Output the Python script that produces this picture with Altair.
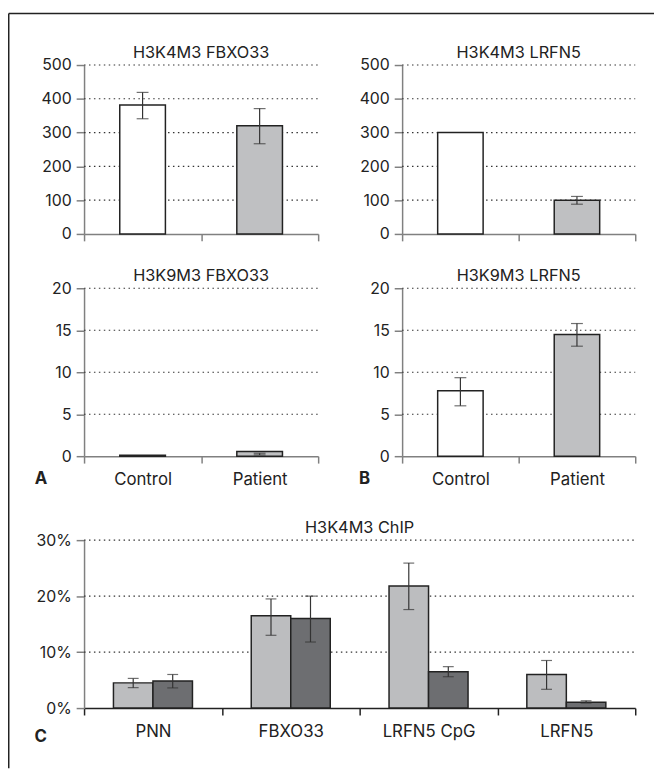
import altair as alt
import pandas as pd

FONT = "Inter"

# ---- data ----
groups = ["Control", "Patient"]

a1_vals = [382, 320]
a1_lo = [341, 267]
a1_hi = [419, 371]

b1_vals = [300, 100]
b1_lo = [None, 88]
b1_hi = [None, 111]

a2_vals = [0.1, 0.55]
a2_lo = [None, 0.15]
a2_hi = [None, 0.35]

b2_vals = [7.8, 14.5]
b2_lo = [6.0, 13.1]
b2_hi = [9.35, 15.8]

genes = ["PNN", "FBXO33", "LRFN5 CpG", "LRFN5"]
light_vals = [0.045, 0.165, 0.218, 0.060]
light_lo = [0.0365, 0.130, 0.176, 0.0335]
light_hi = [0.053, 0.195, 0.259, 0.085]
dark_vals = [0.0485, 0.160, 0.065, 0.0105]
dark_lo = [0.036, 0.118, 0.056, 0.009]
dark_hi = [0.060, 0.200, 0.074, 0.013]

ticks_big = [0, 100, 200, 300, 400, 500]
ticks_small = [0, 5, 10, 15, 20]
ticks_pct = [0, 0.1, 0.2, 0.3]

# ---- layout (chart pixels) ----
W, H = 654, 765
ERR = "#333333"
AXIS_GRAY = "#808080"
TXT = "#222222"


def y_axis(values, left, fmt=None):
    kw = dict(
        title=None, values=values, grid=False, orient="left", offset=-left,
        domainColor=AXIS_GRAY, domainWidth=1.5, tickColor=AXIS_GRAY,
        tickWidth=1.5, tickSize=8, labelFontSize=16, labelColor=TXT, labelPadding=5,
        labelFont=FONT,
    )
    if fmt:
        kw["format"] = fmt
    return alt.Axis(**kw)


def x_axis(labels, bottom, domain_color=AXIS_GRAY):
    return alt.Axis(
        title=None, labels=labels, tickBand="extent", grid=False, orient="bottom",
        offset=bottom - H, domainColor=domain_color, domainWidth=1.5, tickColor=domain_color,
        tickWidth=1.5, tickSize=7, labelFontSize=17, labelColor=TXT, labelPadding=9,
        labelAngle=0, labelFont=FONT,
    )


dummy = pd.DataFrame({"d": [0]})


def text_at(t, x, y, size=16.5, weight="normal"):
    return alt.Chart(dummy).mark_text(
        text=t, fontSize=size, fontWeight=weight, font=FONT, color=TXT,
        align="center", baseline="alphabetic",
    ).encode(x=alt.value(x), y=alt.value(y))


def grid(values, x0, x1):
    gdf = pd.DataFrame({"v": [v for v in values if v != 0]})
    return alt.Chart(gdf).mark_rule(color="#333333", strokeWidth=1.1, strokeDash=[1.5, 3.5]).encode(
        y=alt.Y("v:Q", title=None), x=alt.value(x0), x2=alt.value(x1)
    )


def small_panel(title, vals, lo, hi, yticks, x0, x1, y0, y1, labels):
    df = pd.DataFrame({"group": groups, "value": vals})
    err = pd.DataFrame(
        [{"group": g, "lo": l, "hi": h} for g, l, h in zip(groups, lo, hi) if l is not None]
    )
    xs = alt.Scale(domain=groups, range=[x0, x1], paddingInner=0, paddingOuter=0)
    ys = alt.Scale(domain=[0, yticks[-1]], nice=False, range=[y1, y0])
    layers = [grid(yticks, x0, x1)]
    bars = alt.Chart(df).mark_bar(
        stroke="#222222", strokeWidth=1.5, width=alt.RelativeBandSize(0.39)
    ).encode(
        x=alt.X("group:N", sort=groups, scale=xs, axis=x_axis(labels, y1)),
        y=alt.Y("value:Q", scale=ys, axis=y_axis(yticks, x0)),
        fill=alt.Fill("group:N", scale=alt.Scale(domain=groups, range=["#ffffff", "#bfc0c2"]), legend=None),
    )
    layers.append(bars)
    if len(err):
        rule = alt.Chart(err).mark_rule(color=ERR, strokeWidth=1.2).encode(
            x=alt.X("group:N", sort=groups, title=None),
            y=alt.Y("lo:Q", title=None), y2="hi:Q",
        )
        cap_lo = alt.Chart(err).mark_tick(orient="horizontal", size=12, thickness=1.2, color=ERR).encode(
            x=alt.X("group:N", sort=groups, title=None), y=alt.Y("lo:Q", title=None)
        )
        cap_hi = alt.Chart(err).mark_tick(orient="horizontal", size=12, thickness=1.2, color=ERR).encode(
            x=alt.X("group:N", sort=groups, title=None), y=alt.Y("hi:Q", title=None)
        )
        layers += [rule, cap_lo, cap_hi]
    layers.append(text_at(title, (x0 + x1) / 2, y0 - 7))
    return alt.layer(*layers)


# panel rectangles (chart pixels): x0, x1, y0(top), y1(bottom)
A1 = small_panel("H3K4M3 FBXO33", a1_vals, a1_lo, a1_hi, ticks_big, 77, 314, 53, 224, False)
B1 = small_panel("H3K4M3 LRFN5", b1_vals, b1_lo, b1_hi, ticks_big, 399, 635, 53, 224, False)
A2 = small_panel("H3K9M3 FBXO33", a2_vals, a2_lo, a2_hi, ticks_small, 77, 314, 279, 449, True)
B2 = small_panel("H3K9M3 LRFN5", b2_vals, b2_lo, b2_hi, ticks_small, 399, 635, 279, 449, True)

# ---- panel C ----
rows = []
for i, g in enumerate(genes):
    rows.append({"gene": g, "series": "a", "value": light_vals[i], "lo": light_lo[i], "hi": light_hi[i]})
    rows.append({"gene": g, "series": "b", "value": dark_vals[i], "lo": dark_lo[i], "hi": dark_hi[i]})
cdf = pd.DataFrame(rows)

CX0, CX1, CY0, CY1 = 77, 635, 534, 704
cx = alt.X("gene:N", sort=genes, title=None,
           scale=alt.Scale(domain=genes, range=[CX0, CX1], paddingInner=0, paddingOuter=0),
           axis=x_axis(True, CY1, "#222222"))
cxo = alt.XOffset("series:N", scale=alt.Scale(domain=["a", "b"], paddingInner=0, paddingOuter=0.744))
cys = alt.Scale(domain=[0, 0.3], nice=False, range=[CY1, CY0])

c_bars = alt.Chart(cdf).mark_bar(stroke="#222222", strokeWidth=1.5).encode(
    x=cx, xOffset=cxo,
    y=alt.Y("value:Q", scale=cys, axis=y_axis(ticks_pct, CX0, "0%")),
    fill=alt.Fill("series:N", scale=alt.Scale(domain=["a", "b"], range=["#bcbdbf", "#6d6e71"]), legend=None),
)
c_rule = alt.Chart(cdf).mark_rule(color=ERR, strokeWidth=1.2).encode(
    x=alt.X("gene:N", sort=genes, title=None), xOffset=cxo,
    y=alt.Y("lo:Q", title=None), y2="hi:Q",
)
c_lo = alt.Chart(cdf).mark_tick(orient="horizontal", size=11, thickness=1.2, color=ERR).encode(
    x=alt.X("gene:N", sort=genes, title=None), xOffset=cxo, y=alt.Y("lo:Q", title=None)
)
c_hi = alt.Chart(cdf).mark_tick(orient="horizontal", size=11, thickness=1.2, color=ERR).encode(
    x=alt.X("gene:N", sort=genes, title=None), xOffset=cxo, y=alt.Y("hi:Q", title=None)
)
C = alt.layer(grid(ticks_pct, CX0, CX1), c_bars, c_rule, c_lo, c_hi,
              text_at("H3K4M3 ChIP", (CX0 + CX1) / 2, CY0 - 7))

# frame and panel letters
frame_top = alt.Chart(dummy).mark_rule(color="#222222", strokeWidth=1.5).encode(
    x=alt.value(0.75), x2=alt.value(W), y=alt.value(0.75)
)
frame_left = alt.Chart(dummy).mark_rule(color="#222222", strokeWidth=1.5).encode(
    x=alt.value(0.75), y=alt.value(0.75), y2=alt.value(H)
)
letters = alt.layer(
    text_at("A", 33.5, 477, 17, "bold"),
    text_at("B", 361, 477, 17, "bold"),
    text_at("C", 33, 738, 17, "bold"),
)

chart = alt.layer(A1, B1, A2, B2, C, frame_top, frame_left, letters).resolve_scale(
    x="independent", y="independent", fill="independent"
).resolve_axis(
    x="independent", y="independent"
).properties(
    width=W, height=H,
    autosize=alt.AutoSizeParams(type="none"),
    padding={"left": 0, "top": 0, "right": 0, "bottom": 0},
).configure(
    font=FONT,
).configure_view(
    stroke=None,
)

chart.save("out.html", embed_options={"renderer": "svg", "actions": False})
